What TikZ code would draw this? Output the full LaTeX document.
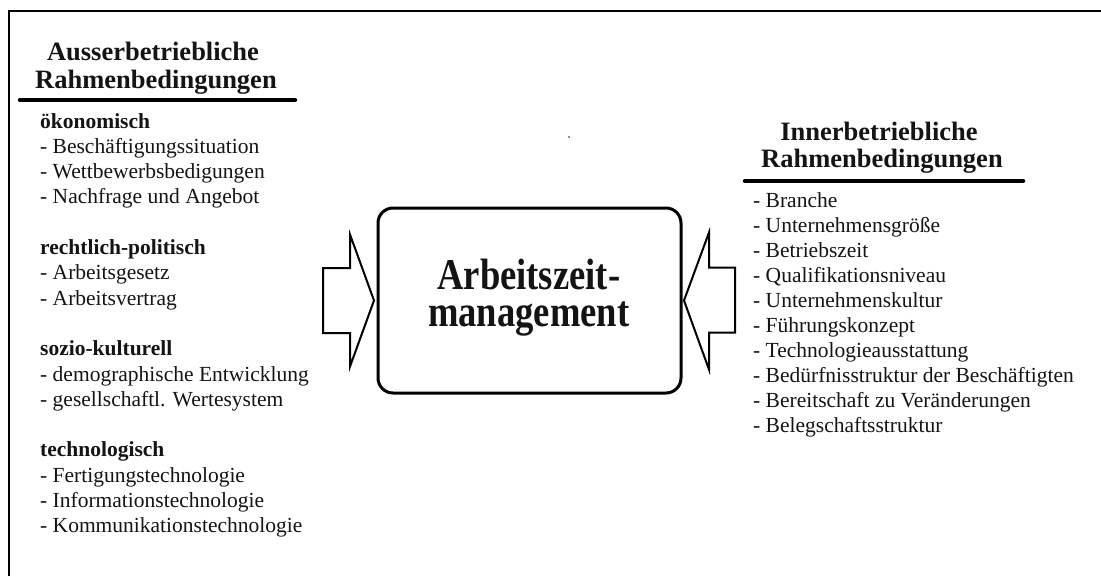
\documentclass[tikz,border=0pt]{standalone}
\usepackage{fontspec}
\setmainfont{Liberation Serif}
\begin{document}
\begin{tikzpicture}[x=1pt,y=-1pt,
  head/.style={font=\fontsize{26.5}{28}\selectfont\bfseries, inner sep=0, anchor=base, text=black!92},
  item/.style={font=\fontsize{21.5}{25}\selectfont, inner sep=0, anchor=base west, text=black!92},
  group/.style={item, font=\fontsize{21.5}{25}\selectfont\bfseries},
  headrule/.style={line width=4.5pt, line cap=round},
  blockarrow/.style={draw, line width=2pt, fill=white, line join=miter},
  centerbox/.style={draw, line width=3pt, rounded corners=15pt, outer sep=0pt,
    minimum width=303pt, minimum height=185pt, inner sep=0},
  title/.style={font=\fontsize{36.6}{30.8}\selectfont\bfseries, inner sep=0, align=center,
    yscale=1.2, text=black!92},
]
\useasboundingbox (0,0) rectangle (1101,576);

% frame
\draw[line width=2pt] (9,576) -- (9,11) -- (1101,11);

% left heading
\node[head] (lh1) at (153,60) {Ausserbetriebliche};
\node[head] (lh2) at (156,88) {Rahmenbedingungen};
\draw[headrule] (20,100) -- (295,100);

% left list
\foreach \k/\s/\t in {
  0/group/ökonomisch,
  1/item/- Beschäftigungssituation,
  2/item/- Wettbewerbsbedigungen,
  3/item/- Nachfrage und Angebot,
  5/group/rechtlich-politisch,
  6/item/- Arbeitsgesetz,
  7/item/- Arbeitsvertrag,
  9/group/sozio-kulturell,
  10/item/- demographische Entwicklung,
  11/item/- gesellschaftl. Wertesystem,
  13/group/technologisch,
  14/item/- Fertigungstechnologie,
  15/item/- Informationstechnologie,
  16/item/- Kommunikationstechnologie}
  \node[\s] (L\k) at (40,{128+\k*25.3}) {\t};

% right heading
\node[head] (rh1) at (879,140) {Innerbetriebliche};
\node[head] (rh2) at (882,167) {Rahmenbedingungen};
\draw[headrule] (745,181) -- (1023,181);

% right list
\foreach \k/\t in {
  0/- Branche,
  1/- Unternehmensgröße,
  2/- Betriebszeit,
  3/- Qualifikationsniveau,
  4/- Unternehmenskultur,
  5/- Führungskonzept,
  6/- Technologieausstattung,
  7/- Bedürfnisstruktur der Beschäftigten,
  8/- Bereitschaft zu Veränderungen,
  9/- Belegschaftsstruktur}
  \node[item] (R\k) at (753,{207+\k*25}) {\t};

% central box with its title
\node[centerbox] (box) at (529.5,300.5) {};
\node[title] (title) at (528.8,297.2) {Arbeitszeit-\\management};

% block arrows pointing at the box
\begin{scope}[shift={(box.west)}]
  \draw[blockarrow] (-55,-32.5) -- (-28,-32.5) -- (-28,-66) -- (-4,0)
    -- (-28,66) -- (-28,32.5) -- (-55,32.5) -- cycle;
\end{scope}
\begin{scope}[shift={(box.east)}]
  \draw[blockarrow] (54,-33) -- (28,-33) -- (28,-68) -- (3,0)
    -- (28,69) -- (28,32) -- (54,32) -- cycle;
\end{scope}

% small speck
\fill[black!60] (569,137) circle (1.1);
\end{tikzpicture}
\end{document}
